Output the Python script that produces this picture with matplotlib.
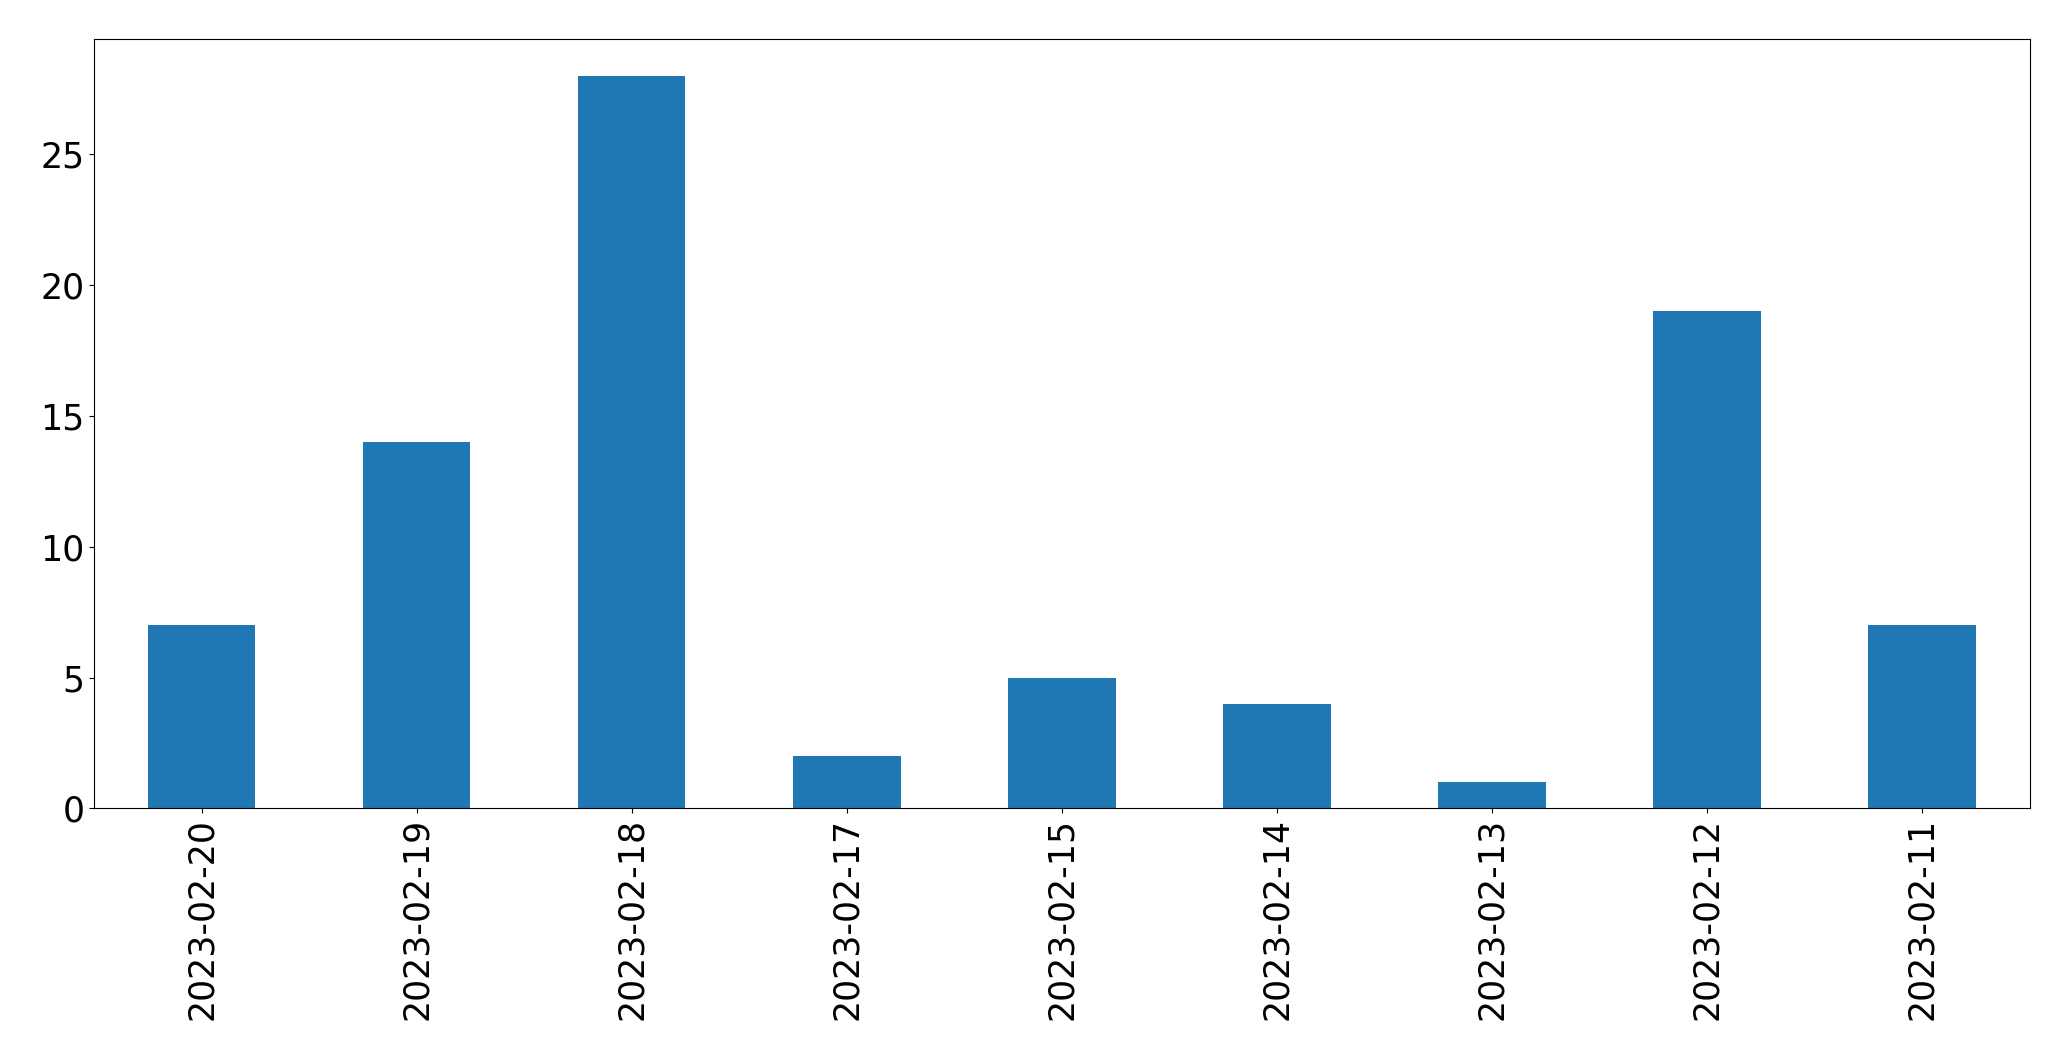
import matplotlib
matplotlib.use('Agg')
import matplotlib.pyplot as plt
import pandas as pd

# data
dates = ['2023-02-20', '2023-02-19', '2023-02-18', '2023-02-17', '2023-02-15',
         '2023-02-14', '2023-02-13', '2023-02-12', '2023-02-11']
counts = [7, 14, 28, 2, 5, 4, 1, 19, 7]

s = pd.Series(counts, index=dates)

fig, ax = plt.subplots(figsize=(20.71, 10.61), dpi=100)
s.plot(kind='bar', ax=ax, color='#1f77b4', fontsize=25)
ax.tick_params(axis='both', labelsize=25)
fig.subplots_adjust(left=0.0454, right=0.980, top=0.963, bottom=0.238)
fig.savefig('out.png', dpi=100)
